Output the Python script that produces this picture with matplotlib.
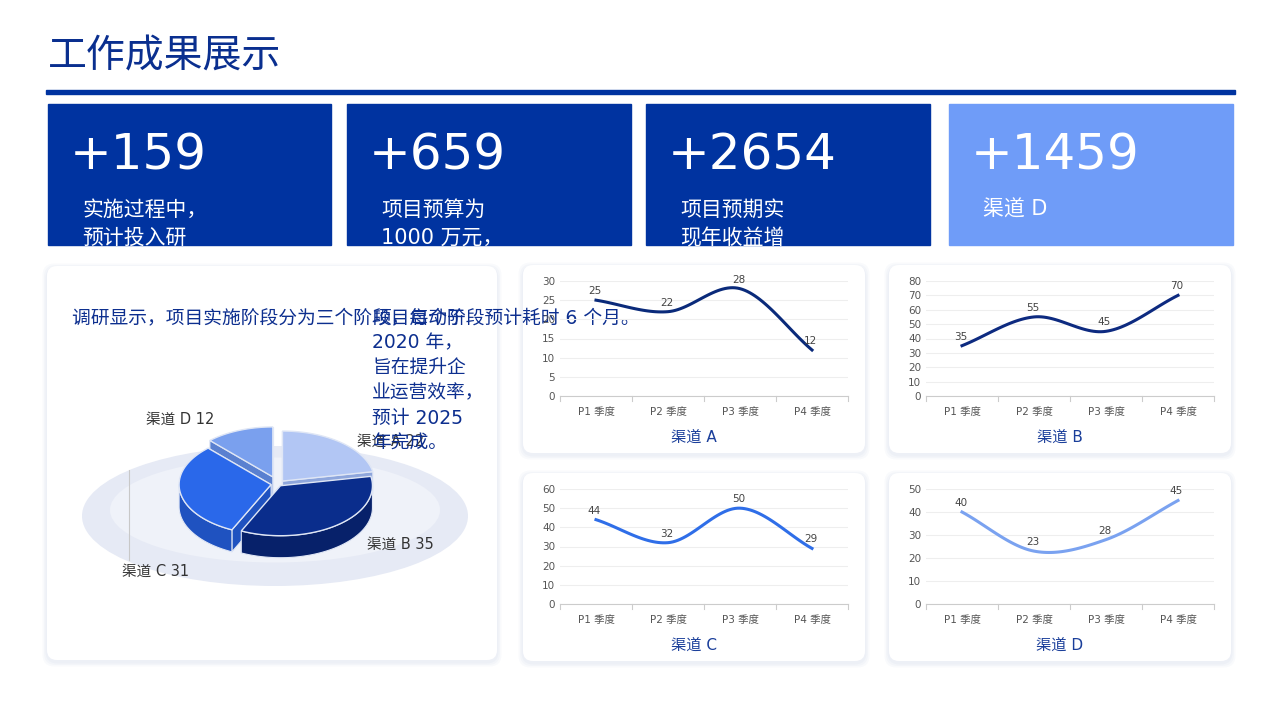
import numpy as np
import matplotlib
matplotlib.use("Agg")
import matplotlib.pyplot as plt
from matplotlib.patches import FancyBboxPatch, Rectangle, Polygon, Ellipse

plt.rcParams['font.family'] = ['DejaVu Sans', 'Noto Sans CJK SC']

title = "工作成果展示"
kpi_values = ["+159", "+659", "+2654", "+1459"]
kpi_texts = [["实施过程中，", "预计投入研"], ["项目预算为", "1000 万元，"], ["项目预期实", "现年收益增"], ["渠道 D"]]
kpi_colors = ["#0033a0", "#0033a0", "#0033a0", "#6f9cf8"]
pie_labels = ["渠道 A", "渠道 B", "渠道 C", "渠道 D"]
pie_values = [22, 35, 31, 12]
pie_colors = ["#b2c6f4", "#0a2d8c", "#2a68ea", "#7aa0ee"]
pie_side = ["#8ea6dc", "#07216a", "#1f52c0", "#5a80d0"]
quarters = ["P1 季度", "P2 季度", "P3 季度", "P4 季度"]
series = {
    "渠道 A": [25, 22, 28, 12],
    "渠道 B": [35, 55, 45, 70],
    "渠道 C": [44, 32, 50, 29],
    "渠道 D": [40, 23, 28, 45],
}
series_colors = {"渠道 A": "#0a2a7a", "渠道 B": "#0d2a80", "渠道 C": "#2f6ee8", "渠道 D": "#7aa2f0"}
series_ymax = {"渠道 A": (30, 5), "渠道 B": (80, 10), "渠道 C": (60, 10), "渠道 D": (50, 10)}
research = "调研显示，项目实施阶段分为三个阶段，每个阶段预计耗时 6 个月。"
overlay = ["项目启动于", "2020 年，", "旨在提升企", "业运营效率，", "预计 2025", "年完成。"]

W, H = 1280, 719
fig = plt.figure(figsize=(12.8, 7.19), dpi=100)
bg = fig.add_axes([0, 0, 1, 1])
bg.set_xlim(0, W); bg.set_ylim(H, 0); bg.axis('off')

bg.text(48, 56, title, fontsize=28, color="#0a2f8f", va='center')
bg.add_patch(Rectangle((46, 90), 1189, 4, color="#0033a0"))

def card(x0, y0, x1, y1):
    for i in range(3):
        d = 3 + i * 3
        bg.add_patch(FancyBboxPatch((x0 - d / 2, y0 - d / 2 + 2), x1 - x0 + d, y1 - y0 + d,
                                    boxstyle="round,pad=0,rounding_size=12", fc="#5070b0", ec='none', alpha=0.03))
    bg.add_patch(FancyBboxPatch((x0, y0), x1 - x0, y1 - y0, boxstyle="round,pad=0,rounding_size=10",
                                fc='white', ec='none'))

kx = [(48, 331), (347, 631), (646, 930), (949, 1233)]
for i, (x0, x1) in enumerate(kx):
    bg.add_patch(Rectangle((x0, 104), x1 - x0, 141, color=kpi_colors[i]))

card(47, 266, 497, 660)
panels = {"渠道 A": (523, 265, 865, 453), "渠道 B": (889, 265, 1231, 453),
          "渠道 C": (523, 473, 865, 661), "渠道 D": (889, 473, 1231, 661)}
for k, (x0, y0, x1, y1) in panels.items():
    card(x0, y0, x1, y1)

for i, (x0, x1) in enumerate(kx):
    bg.text(x0 + 22, 155, kpi_values[i], fontsize=36, color='white', va='center')
    for j, t in enumerate(kpi_texts[i]):
        bg.text(x0 + 34, 210 + j * 28, t, fontsize=15, color='white', va='center')

cx, cy, rx, ry, dep = 278, 484, 92, 50, 22
bg.add_patch(Ellipse((275, 516), 386, 140, fc="#e6eaf5", ec='none'))
bg.add_patch(Ellipse((275, 510), 330, 105, fc="#eff2f9", ec='none'))
total = sum(pie_values)
start = 90.0
explode = [7, 4, 7, 14]
slices = []
for i, v in enumerate(pie_values):
    ang = v / total * 360
    a0, a1 = start - ang, start
    mid = np.radians((a0 + a1) / 2)
    ox, oy = explode[i] * np.cos(mid), -explode[i] * np.sin(mid) * ry / rx
    slices.append((a0, a1, ox, oy, i))
    start = a0

def pt(a, ox, oy, dy=0):
    r = np.radians(a)
    return cx + ox + rx * np.cos(r), cy + oy - ry * np.sin(r) + dy

for a0, a1, ox, oy, i in sorted(slices, key=lambda s: -abs(np.sin(np.radians((s[0] + s[1]) / 2)))):
    for a in (a0, a1):
        p = pt(a, ox, oy)
        c = (cx + ox, cy + oy)
        bg.add_patch(Polygon([c, p, (p[0], p[1] + dep), (c[0], c[1] + dep)], fc=pie_side[i], ec='#dfe6f5', lw=0.8, zorder=2))
for a0, a1, ox, oy, i in slices:
    angs = np.linspace(a0, a1, 80)
    low = [a for a in angs if np.sin(np.radians(a)) <= 0.02]
    if len(low) > 1:
        top = [pt(a, ox, oy) for a in low]
        bot = [pt(a, ox, oy, dep) for a in low[::-1]]
        bg.add_patch(Polygon(top + bot, fc=pie_side[i], ec='#dfe6f5', lw=0.8, zorder=3))
for a0, a1, ox, oy, i in slices:
    angs = np.linspace(a0, a1, 80)
    verts = [(cx + ox, cy + oy)] + [pt(a, ox, oy) for a in angs]
    bg.add_patch(Polygon(verts, fc=pie_colors[i], ec='#dfe6f5', lw=1, zorder=4))

lab_pos = [(357, 441), (367, 544), (122, 571), (146, 419)]
for i, (x, y) in enumerate(lab_pos):
    bg.text(x, y, f"{pie_labels[i]} {pie_values[i]}", fontsize=10.5, color="#333333", va='center', zorder=6)
bg.plot([129, 129], [560, 470], color="#c8c8c8", lw=0.8, zorder=1)

def smooth(xs, ys, n=30):
    xs = np.asarray(xs, float); ys = np.asarray(ys, float)
    px = np.concatenate([[2 * xs[0] - xs[1]], xs, [2 * xs[-1] - xs[-2]]])
    py = np.concatenate([[2 * ys[0] - ys[1]], ys, [2 * ys[-1] - ys[-2]]])
    ox, oy = [], []
    for k in range(1, len(px) - 2):
        t = np.linspace(0, 1, n)
        for arr, out in ((px, ox), (py, oy)):
            p0, p1, p2, p3 = arr[k - 1], arr[k], arr[k + 1], arr[k + 2]
            out.extend(0.5 * (2 * p1 + (-p0 + p2) * t + (2 * p0 - 5 * p1 + 4 * p2 - p3) * t ** 2 + (-p0 + 3 * p1 - 3 * p2 + p3) * t ** 3))
    return ox, oy

for k, (x0, y0, x1, y1) in panels.items():
    ax0, ax1 = x0 + 37, x1 - 17
    ay0, ay1 = y0 + 16, y0 + 131
    ymax, step = series_ymax[k]
    ax = fig.add_axes([ax0 / W, 1 - ay1 / H, (ax1 - ax0) / W, (ay1 - ay0) / H])
    ax.set_facecolor('none')
    xs = np.arange(4)
    vals = series[k]
    sx, sy = smooth(xs, vals)
    ax.plot(sx, sy, color=series_colors[k], lw=2.2)
    for xi, v in zip(xs, vals):
        ax.text(xi - 0.02, v + ymax * 0.035, str(v), fontsize=7.5, color="#444444", ha='center', va='bottom')
    ax.set_xlim(-0.5, 3.5); ax.set_ylim(0, ymax)
    ax.set_yticks(np.arange(0, ymax + 1, step))
    ax.set_xticks(xs); ax.set_xticklabels(quarters)
    ax.tick_params(axis='both', labelsize=7.5, colors="#555555", length=0)
    ax.tick_params(axis='x', pad=8)
    ax.grid(axis='y', color="#eeeeee", lw=0.8)
    ax.set_axisbelow(True)
    for s in ('top', 'right', 'left'):
        ax.spines[s].set_visible(False)
    ax.spines['bottom'].set_color("#cccccc")
    for b in np.arange(-0.5, 3.6, 1):
        ax.plot([b, b], [0, -ymax * 0.04], color="#cccccc", lw=0.8, clip_on=False)
    bg.text((x0 + x1) / 2, y0 + 172, k, fontsize=11, color="#1a3e9a", ha='center', va='center')

bg.text(72, 318, research, fontsize=13.5, color="#0d2f8f", va='center', zorder=8)
for j, t in enumerate(overlay):
    bg.text(372, 318 + j * 25, t, fontsize=13.5, color="#0d2f8f", va='center', zorder=8)

fig.savefig("out.png", dpi=100)
